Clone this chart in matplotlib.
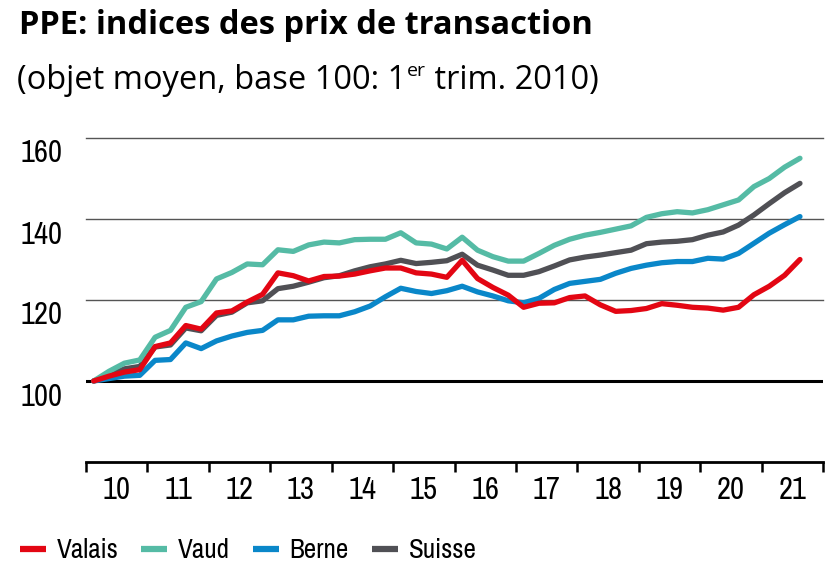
import numpy as np
import matplotlib.pyplot as plt
from matplotlib.lines import Line2D
from matplotlib.transforms import ScaledTranslation
from matplotlib import font_manager

# Quarterly transaction price indices, 2010 Q1 = 100 (2010 Q1 .. 2021 Q3)
valais = [100, 101.2, 102.2, 102.8, 108.5, 109.4, 113.7, 112.8, 116.8, 117.3,
          119.5, 121.4, 126.7, 126.0, 124.7, 125.8, 125.9, 126.4, 127.2, 127.9,
          127.9, 126.7, 126.4, 125.6, 129.8, 125.3, 123.1, 121.2, 118.2, 119.2,
          119.3, 120.6, 121.0, 118.8, 117.2, 117.4, 117.9, 119.1, 118.7, 118.2,
          118.0, 117.5, 118.2, 121.3, 123.4, 126.1, 130.0]
vaud = [100, 102.4, 104.4, 105.2, 110.8, 112.5, 118.2, 119.6, 125.2, 126.8,
        128.9, 128.7, 132.4, 132.0, 133.6, 134.3, 134.1, 134.9, 135.0, 135.0,
        136.6, 134.1, 133.8, 132.6, 135.5, 132.3, 130.7, 129.6, 129.6, 131.5,
        133.5, 135.0, 136.0, 136.7, 137.5, 138.3, 140.4, 141.3, 141.8, 141.5,
        142.3, 143.5, 144.7, 148.0, 150.0, 152.8, 155.0]
berne = [100, 100.6, 101.2, 101.4, 105.1, 105.3, 109.4, 108.0, 109.9, 111.1,
         112.0, 112.5, 115.1, 115.1, 116.0, 116.1, 116.1, 117.1, 118.5, 120.8,
         122.9, 122.1, 121.6, 122.3, 123.4, 122.0, 121.0, 119.8, 119.3, 120.4,
         122.6, 124.1, 124.6, 125.1, 126.6, 127.8, 128.6, 129.2, 129.5, 129.5,
         130.3, 130.1, 131.5, 134.0, 136.5, 138.6, 140.6]
suisse = [100, 101.4, 103.0, 103.6, 108.4, 108.9, 113.1, 112.4, 116.2, 117.0,
          119.3, 119.8, 122.8, 123.4, 124.4, 125.5, 126.0, 127.2, 128.2, 128.9,
          129.8, 129.0, 129.3, 129.7, 131.3, 128.6, 127.4, 126.1, 126.1, 127.0,
          128.4, 129.9, 130.6, 131.1, 131.7, 132.3, 133.9, 134.3, 134.5, 134.9,
          136.0, 136.8, 138.5, 141.0, 143.8, 146.5, 148.8]

names = ['Valais', 'Vaud', 'Berne', 'Suisse']
colors = ['#e30613', '#55bba5', '#0a87c9', '#505055']
years = list(range(2010, 2022))
year_labels = [str(y)[2:] for y in years]
y_ticks = [100, 120, 140, 160]

# pick a narrow sans if one is around, else a smaller regular one
installed = {f.name for f in font_manager.fontManager.ttflist}
narrow_names = sorted(n for n in installed if 'Narrow' in n or 'Condensed' in n)
if narrow_names:
    narrow = {'family': narrow_names[0]}
    size_tick, size_leg = 22, 19.5
else:
    narrow = {'family': 'Liberation Sans'}
    size_tick, size_leg = 18, 16.5

n = len(valais)
x = 2010 + (np.arange(n) + 0.5) / 4  # quarter centres

fig = plt.figure(figsize=(8.38, 5.79), dpi=100)
ax = fig.add_axes([86 / 838, 1 - 462 / 579, (823 - 86) / 838, (462 - 138) / 579])

# draw Suisse first, Valais last (on top)
series = [valais, vaud, berne, suisse]
for idx in [3, 2, 1, 0]:
    ax.plot(x, series[idx], color=colors[idx], lw=3.8,
            solid_capstyle='round', solid_joinstyle='round', zorder=3)

# grid lines and base line
for v in [120, 140, 160]:
    ax.axhline(v, color='#555555', lw=1.0, zorder=1, clip_on=False)
ax.axhline(100, color='black', lw=2.2, zorder=2)

ax.set_xlim(2010, 2022)
ax.set_ylim(80, 160)

for s in ['top', 'right', 'left']:
    ax.spines[s].set_visible(False)
ax.spines['bottom'].set_linewidth(2)

# x axis: ticks at year boundaries, labels centred on years
ax.set_xticks(range(2010, 2023))
ax.set_xticklabels([])
ax.tick_params(axis='x', which='major', length=7, width=1.8, direction='out')
ax.set_xticks([y + 0.5 for y in years], minor=True)
ax.set_xticklabels(year_labels, minor=True, fontsize=size_tick, **narrow)
ax.tick_params(axis='x', which='minor', length=0, pad=10)

# y axis labels sit just below their grid line
ax.set_yticks(y_ticks)
ax.set_yticklabels([str(v) for v in y_ticks], fontsize=size_tick, **narrow)
ax.tick_params(axis='y', length=0, pad=17)
shift = ScaledTranslation(0, -13 / 100, fig.dpi_scale_trans)
for lab in ax.get_yticklabels():
    lab.set_transform(lab.get_transform() + shift)

# title and subtitle
fig.text(19 / 838, 1 - 34 / 579, 'PPE: indices des prix de transaction',
         family='Open Sans', weight='bold', fontsize=23.5, va='baseline')
renderer = fig.canvas.get_renderer()
t1 = fig.text(17 / 838, 1 - 89 / 579, '(objet moyen, base 100: 1',
              family='Open Sans', fontsize=23.5, va='baseline')
bb = t1.get_window_extent(renderer)
t2 = fig.text(bb.x1 / 838 + 0.001, 1 - 76 / 579, 'er',
              family='Open Sans', fontsize=14, va='baseline')
bb2 = t2.get_window_extent(renderer)
fig.text(bb2.x1 / 838, 1 - 89 / 579, ' trim. 2010)',
         family='Open Sans', fontsize=23.5, va='baseline')

# legend
handles = [Line2D([0], [0], color=c, lw=4.5, solid_capstyle='butt') for c in colors]
prop = dict(narrow)
prop['size'] = size_leg
fig.legend(handles, names, loc='center left', bbox_to_anchor=(20 / 838, 1 - 551 / 579),
           ncol=4, frameon=False, handlelength=0.95, handletextpad=0.4,
           columnspacing=0.85, borderpad=0, borderaxespad=0, prop=prop)

plt.savefig('out.png', dpi=100)
